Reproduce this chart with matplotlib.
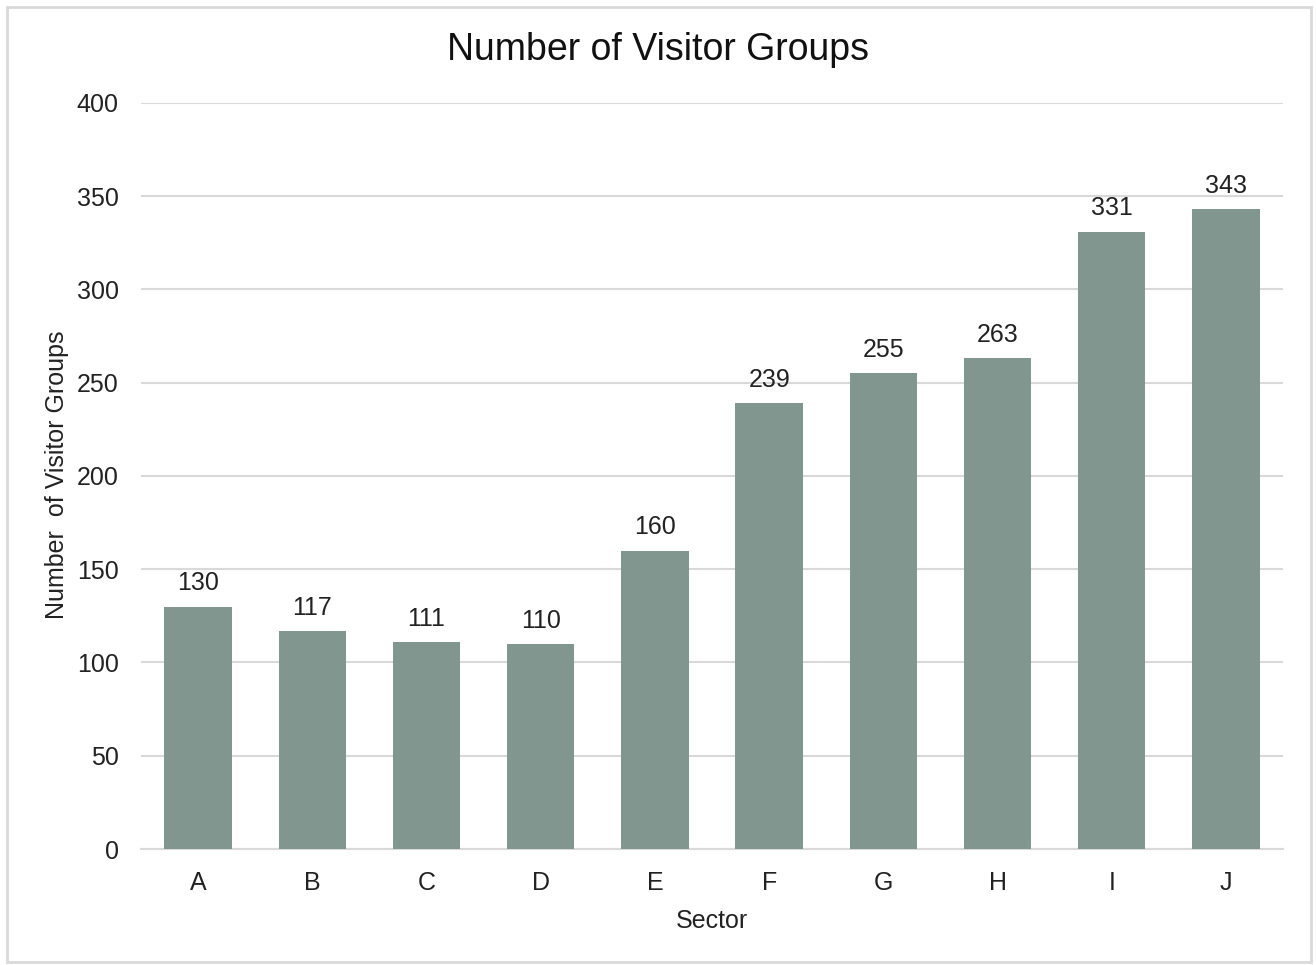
import matplotlib.pyplot as plt
from matplotlib.patches import Rectangle

plt.rcParams['font.family'] = ['Liberation Sans', 'DejaVu Sans']

sectors = ["A", "B", "C", "D", "E", "F", "G", "H", "I", "J"]
groups = [130, 117, 111, 110, 160, 239, 255, 263, 331, 343]

fig = plt.figure(figsize=(13.16, 9.65), dpi=100)
ax = fig.add_axes([0.1071, 0.1202, 0.8679, 0.7731])

x = list(range(len(sectors)))
bars = ax.bar(x, groups, width=0.59, color="#81968F", zorder=3)
for b, v in zip(bars, groups):
    ax.text(b.get_x() + b.get_width() / 2, v + 6, str(v), ha="center", va="bottom",
            fontsize=18, color="#222222")

ax.set_xlim(-0.5, len(sectors) - 0.5)
ax.set_ylim(0, 400)
ax.set_yticks(range(0, 401, 50))
ax.set_xticks(x)
ax.set_xticklabels(sectors)
ax.tick_params(axis="both", length=0, labelsize=18, colors="#222222")
ax.tick_params(axis="y", pad=16)
ax.tick_params(axis="x", pad=16)
ax.grid(axis="y", color="#D9D9D9", linewidth=1.5, zorder=0)
for s in ["top", "right", "left"]:
    ax.spines[s].set_visible(False)
ax.spines["bottom"].set_color("#D9D9D9")
ax.spines["bottom"].set_linewidth(1.5)

fig.text(712 / 1316, 1 - 921 / 965, "Sector", ha="center", va="center",
         fontsize=18, color="#222222")
fig.text(57 / 1316, 1 - 475 / 965, "Number  of Visitor Groups", ha="center", va="center",
         rotation=90, fontsize=18, color="#222222")
fig.text(658 / 1316, 1 - 50 / 965, "Number of Visitor Groups", ha="center", va="center",
         fontsize=27, color="#111111")

fig.patches.append(Rectangle((7 / 1316, 3 / 965), 1304 / 1316, 955 / 965,
                             transform=fig.transFigure, fill=False,
                             edgecolor="#D9D9D9", linewidth=2))

fig.savefig("out.png", dpi=100)
